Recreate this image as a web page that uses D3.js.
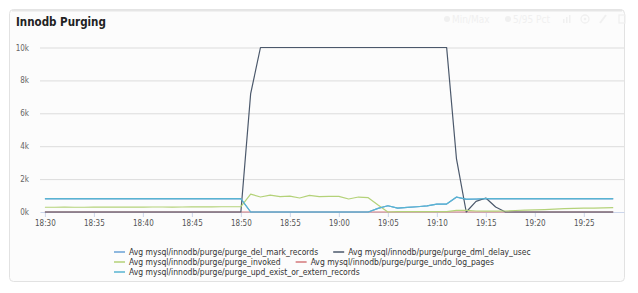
<!DOCTYPE html>
<html>
<head>
<meta charset="utf-8">
<script src="https://cdn.jsdelivr.net/npm/d3@7"></script>
<style>
  body { margin: 0; background: #fff; }
  text { font-family: "DejaVu Sans Condensed", "DejaVu Sans", sans-serif; }
</style>
</head>
<body>
<svg id="chart" width="638" height="293"></svg>
<script>
// data, one point per minute starting 18:30
const startTime = '18:30';
const seriesNames = [
    'Avg mysql/innodb/purge/purge_del_mark_records',
    'Avg mysql/innodb/purge/purge_dml_delay_usec',
    'Avg mysql/innodb/purge/purge_invoked',
    'Avg mysql/innodb/purge/purge_undo_log_pages',
    'Avg mysql/innodb/purge/purge_upd_exist_or_extern_records'
];
const seriesColors = ['#6aa2d6', '#4b586b', '#b4d279', '#d4797b', '#58b4d2'];

const delMarkRecords = [
    790, 790, 790, 790, 790, 790, 790, 790, 790, 790, 790, 790, 790, 790, 790, 790, 790, 790, 790, 790, 790,
    0, 0, 0, 0, 0, 0, 0, 0, 0, 0, 0, 0, 0,
    220, 380, 240, 280, 320, 370, 480, 480, 900, 770, 780, 800,
    800, 800, 800, 800, 800, 800, 800, 800, 800, 800, 800, 800, 800
];
const dmlDelayUsec = [
    0, 0, 0, 0, 0, 0, 0, 0, 0, 0, 0, 0, 0, 0, 0, 0, 0, 0, 0, 0, 0,
    7200,
    10000, 10000, 10000, 10000, 10000, 10000, 10000, 10000, 10000, 10000,
    10000, 10000, 10000, 10000, 10000, 10000, 10000, 10000, 10000, 10000,
    3250, 0, 650, 850, 300,
    0, 0, 0, 0, 0, 0, 0, 0, 0, 0, 0, 0
];
const invoked = [
    290, 290, 295, 290, 290, 295, 295, 300, 300, 300, 300, 305, 305, 300, 305, 310, 310, 315, 320, 320, 320,
    1090, 910, 1030, 930, 970, 850, 1010, 930, 950, 950, 790, 910, 870, 420,
    0, 20, 20, 20, 20, 20, 20, 100, 100, 60, 50, 50, 60, 90, 110, 130, 150, 180, 200, 220, 230, 240, 250, 260
];
const undoLogPages = [
    0, 0, 0, 0, 0, 0, 0, 0, 0, 0, 0, 0, 0, 0, 0, 0, 0, 0, 0, 0, 0,
    0, 0, 0, 0, 0, 0, 0, 0, 0, 0, 0, 0, 0, 0, 0, 0, 0, 0, 0, 0, 0,
    0, 0, 0, 0, 0, 0, 0, 0, 0, 0, 0, 0, 0, 0, 0, 0, 0
];
const updExistOrExternRecords = [
    810, 810, 810, 810, 810, 810, 810, 810, 810, 810, 810, 810, 810, 810, 810, 810, 810, 810, 810, 810, 810,
    0, 0, 0, 0, 0, 0, 0, 0, 0, 0, 0, 0, 0,
    220, 380, 240, 280, 320, 370, 480, 480, 910, 780, 790, 810,
    810, 810, 810, 810, 810, 810, 810, 810, 810, 810, 810, 810, 810
];
const xTickLabels = ['18:30', '18:35', '18:40', '18:45', '18:50', '18:55', '19:00', '19:05', '19:10', '19:15', '19:20', '19:25'];
const yTickValues = [0, 2000, 4000, 6000, 8000, 10000];

const allSeries = [delMarkRecords, dmlDelayUsec, invoked, undoLogPages, updExistOrExternRecords];
// undo pages is flat at zero and sits under the others
const drawOrder = [3, 0, 1, 2, 4];

const parseTime = d3.timeParse('%H:%M');
const t0 = parseTime(startTime);

const svg = d3.select('#chart');

// panel
svg.append('rect')
    .attr('x', 9.5).attr('y', 9.5)
    .attr('width', 615).attr('height', 272)
    .attr('rx', 4)
    .attr('fill', '#fcfcfc')
    .attr('stroke', '#e2e2e2');
svg.append('line')
    .attr('x1', 12).attr('x2', 622)
    .attr('y1', 10.5).attr('y2', 10.5)
    .attr('stroke', '#e6e6e6').attr('stroke-width', 2);

svg.append('text')
    .attr('x', 16).attr('y', 26)
    .attr('font-size', 11.5).attr('font-weight', 'bold')
    .attr('fill', '#222')
    .text('Innodb Purging');

// faint toolbar
const tb = svg.append('g').attr('fill', '#f0f0f0').attr('stroke', '#f0f0f0').attr('font-size', 10);
tb.append('circle').attr('cx', 447).attr('cy', 19).attr('r', 3).attr('stroke', 'none');
tb.append('text').attr('x', 452).attr('y', 22.5).attr('stroke', 'none').text('Min/Max');
tb.append('circle').attr('cx', 508).attr('cy', 19).attr('r', 3).attr('stroke', 'none');
tb.append('text').attr('x', 513).attr('y', 22.5).attr('stroke', 'none').text('5/95 Pct');
tb.append('rect').attr('x', 563).attr('y', 19).attr('width', 1.5).attr('height', 4).attr('stroke', 'none');
tb.append('rect').attr('x', 566).attr('y', 17).attr('width', 1.5).attr('height', 6).attr('stroke', 'none');
tb.append('rect').attr('x', 569).attr('y', 15).attr('width', 1.5).attr('height', 8).attr('stroke', 'none');
tb.append('circle').attr('cx', 585).attr('cy', 19).attr('r', 4).attr('fill', 'none').attr('stroke-width', 1.3);
tb.append('circle').attr('cx', 585).attr('cy', 19).attr('r', 1.3).attr('stroke', 'none');
tb.append('line').attr('x1', 600).attr('y1', 23).attr('x2', 606).attr('y2', 15).attr('stroke-width', 2);
tb.append('rect').attr('x', 619).attr('y', 15).attr('width', 6).attr('height', 8).attr('fill', 'none').attr('stroke-width', 1.3);

// plot area
const plot = { left: 40, right: 624, top: 47.5, bottom: 212 };

const x = d3.scaleTime()
    .domain([d3.timeSecond.offset(t0, -30), d3.timeSecond.offset(t0, 59 * 60 + 6)])
    .range([plot.left, plot.right]);
const y = d3.scaleLinear()
    .domain([0, 10000])
    .range([plot.bottom, plot.top]);

// grid
const yAxis = d3.axisLeft(y)
    .tickValues(yTickValues)
    .tickSize(-(plot.right - plot.left))
    .tickFormat(d => (d / 1000) + 'k');
const yAxisGroup = svg.append('g')
    .attr('transform', `translate(${plot.left},0)`)
    .call(yAxis);
yAxisGroup.select('.domain').remove();
yAxisGroup.selectAll('.tick line').attr('stroke', '#dcdcdc');
yAxisGroup.selectAll('.tick').filter(d => d === 0).select('line').remove();
yAxisGroup.selectAll('.tick text')
    .attr('x', -11)
    .attr('fill', '#666')
    .attr('font-size', 8)
    .attr('font-family', null);

// x axis
const xTickTimes = xTickLabels.map(parseTime);
const xAxis = d3.axisBottom(x)
    .tickValues(xTickTimes)
    .tickSize(5)
    .tickSizeOuter(0)
    .tickFormat(d3.timeFormat('%H:%M'));
const xAxisGroup = svg.append('g')
    .attr('transform', `translate(0,${plot.bottom})`)
    .call(xAxis);
xAxisGroup.select('.domain').attr('stroke', '#ccd6eb');
xAxisGroup.selectAll('.tick line').attr('stroke', '#ccd6eb');
xAxisGroup.selectAll('.tick text')
    .attr('y', 8)
    .attr('fill', '#555')
    .attr('font-size', 8)
    .attr('font-family', null);

// lines
const line = d3.line()
    .x((d, i) => x(d3.timeMinute.offset(t0, i)))
    .y(d => y(d));

svg.append('g')
    .selectAll('path')
    .data(drawOrder)
    .join('path')
    .attr('d', k => line(allSeries[k]))
    .attr('fill', 'none')
    .attr('stroke', k => seriesColors[k])
    .attr('stroke-width', 1.2)
    .attr('stroke-linejoin', 'round');

// legend
const legend = svg.append('g').attr('font-size', 8.5);
const legendLeft = 114, legendRight = 570, rowHeight = 10;
let lx = legendLeft, ly = 252;
seriesNames.forEach((name, i) => {
    const item = legend.append('g');
    const label = item.append('text')
        .attr('x', 15).attr('y', 3)
        .attr('fill', '#333')
        .text(name);
    const w = 15 + label.node().getComputedTextLength();
    if (lx > legendLeft && lx + w > legendRight) {
        lx = legendLeft;
        ly += rowHeight;
    }
    item.attr('transform', `translate(${lx},${ly})`);
    item.append('line')
        .attr('x1', 0).attr('x2', 11)
        .attr('stroke', seriesColors[i])
        .attr('stroke-width', 1.5);
    lx += w + 15;
});
</script>
</body>
</html>
